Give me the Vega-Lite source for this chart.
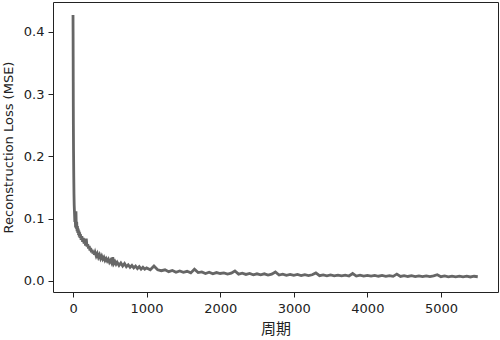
{
  "$schema": "https://vega.github.io/schema/vega-lite/v6.json",
  "width": 445,
  "height": 290,
  "autosize": {"type": "none"},
  "padding": {"left": 53, "top": 2, "right": 2, "bottom": 48},
  "background": "white",
  "config": {
    "view": {"stroke": "#222", "strokeWidth": 1},
    "font": "DejaVu Sans",
    "axis": {
      "grid": false,
      "domain": false,
      "tickColor": "#222",
      "tickSize": 5,
      "labelColor": "#222",
      "labelFontSize": 13,
      "labelFont": "DejaVu Sans",
      "titleColor": "#222",
      "titleFontWeight": "normal",
      "titleFontSize": 13
    }
  },
  "data": {
    "values": [
      {"epoch": 0, "loss": 0.427},
      {"epoch": 1, "loss": 0.40},
      {"epoch": 2, "loss": 0.36},
      {"epoch": 3, "loss": 0.32},
      {"epoch": 4, "loss": 0.28},
      {"epoch": 5, "loss": 0.25},
      {"epoch": 7, "loss": 0.21},
      {"epoch": 10, "loss": 0.17},
      {"epoch": 13, "loss": 0.14},
      {"epoch": 16, "loss": 0.122},
      {"epoch": 20, "loss": 0.11},
      {"epoch": 25, "loss": 0.095},
      {"epoch": 30, "loss": 0.100},
      {"epoch": 35, "loss": 0.086},
      {"epoch": 40, "loss": 0.112},
      {"epoch": 45, "loss": 0.084},
      {"epoch": 50, "loss": 0.095},
      {"epoch": 55, "loss": 0.080},
      {"epoch": 60, "loss": 0.088},
      {"epoch": 65, "loss": 0.077},
      {"epoch": 70, "loss": 0.084},
      {"epoch": 75, "loss": 0.074},
      {"epoch": 80, "loss": 0.081},
      {"epoch": 85, "loss": 0.071},
      {"epoch": 90, "loss": 0.078},
      {"epoch": 95, "loss": 0.069},
      {"epoch": 100, "loss": 0.075},
      {"epoch": 110, "loss": 0.066},
      {"epoch": 120, "loss": 0.072},
      {"epoch": 130, "loss": 0.063},
      {"epoch": 140, "loss": 0.069},
      {"epoch": 150, "loss": 0.060},
      {"epoch": 160, "loss": 0.066},
      {"epoch": 170, "loss": 0.057},
      {"epoch": 180, "loss": 0.068},
      {"epoch": 190, "loss": 0.055},
      {"epoch": 200, "loss": 0.059},
      {"epoch": 210, "loss": 0.052},
      {"epoch": 220, "loss": 0.056},
      {"epoch": 230, "loss": 0.049},
      {"epoch": 240, "loss": 0.053},
      {"epoch": 250, "loss": 0.046},
      {"epoch": 260, "loss": 0.050},
      {"epoch": 270, "loss": 0.044},
      {"epoch": 280, "loss": 0.048},
      {"epoch": 290, "loss": 0.042},
      {"epoch": 300, "loss": 0.046},
      {"epoch": 315, "loss": 0.040},
      {"epoch": 330, "loss": 0.044},
      {"epoch": 345, "loss": 0.038},
      {"epoch": 360, "loss": 0.042},
      {"epoch": 375, "loss": 0.036},
      {"epoch": 390, "loss": 0.040},
      {"epoch": 405, "loss": 0.035},
      {"epoch": 420, "loss": 0.038},
      {"epoch": 435, "loss": 0.033},
      {"epoch": 450, "loss": 0.036},
      {"epoch": 465, "loss": 0.032},
      {"epoch": 480, "loss": 0.035},
      {"epoch": 495, "loss": 0.030},
      {"epoch": 510, "loss": 0.033},
      {"epoch": 525, "loss": 0.029},
      {"epoch": 540, "loss": 0.038},
      {"epoch": 555, "loss": 0.028},
      {"epoch": 570, "loss": 0.031},
      {"epoch": 585, "loss": 0.027},
      {"epoch": 600, "loss": 0.030},
      {"epoch": 625, "loss": 0.025},
      {"epoch": 650, "loss": 0.029},
      {"epoch": 675, "loss": 0.024},
      {"epoch": 700, "loss": 0.028},
      {"epoch": 725, "loss": 0.023},
      {"epoch": 750, "loss": 0.026},
      {"epoch": 775, "loss": 0.022},
      {"epoch": 800, "loss": 0.025},
      {"epoch": 825, "loss": 0.021},
      {"epoch": 850, "loss": 0.024},
      {"epoch": 875, "loss": 0.020},
      {"epoch": 900, "loss": 0.023},
      {"epoch": 925, "loss": 0.019},
      {"epoch": 950, "loss": 0.022},
      {"epoch": 975, "loss": 0.019},
      {"epoch": 1000, "loss": 0.021},
      {"epoch": 1050, "loss": 0.018},
      {"epoch": 1100, "loss": 0.024},
      {"epoch": 1150, "loss": 0.018},
      {"epoch": 1200, "loss": 0.0165},
      {"epoch": 1250, "loss": 0.018},
      {"epoch": 1300, "loss": 0.015},
      {"epoch": 1350, "loss": 0.017},
      {"epoch": 1400, "loss": 0.014},
      {"epoch": 1450, "loss": 0.016},
      {"epoch": 1500, "loss": 0.014},
      {"epoch": 1550, "loss": 0.0155},
      {"epoch": 1600, "loss": 0.013},
      {"epoch": 1650, "loss": 0.019},
      {"epoch": 1700, "loss": 0.0135},
      {"epoch": 1750, "loss": 0.0145},
      {"epoch": 1800, "loss": 0.012},
      {"epoch": 1850, "loss": 0.014},
      {"epoch": 1900, "loss": 0.0115},
      {"epoch": 1950, "loss": 0.0135},
      {"epoch": 2000, "loss": 0.012},
      {"epoch": 2050, "loss": 0.013},
      {"epoch": 2100, "loss": 0.011},
      {"epoch": 2150, "loss": 0.0125},
      {"epoch": 2200, "loss": 0.016},
      {"epoch": 2250, "loss": 0.011},
      {"epoch": 2300, "loss": 0.0125},
      {"epoch": 2350, "loss": 0.0105},
      {"epoch": 2400, "loss": 0.012},
      {"epoch": 2450, "loss": 0.010},
      {"epoch": 2500, "loss": 0.0115},
      {"epoch": 2550, "loss": 0.0100},
      {"epoch": 2600, "loss": 0.0115},
      {"epoch": 2650, "loss": 0.0095},
      {"epoch": 2700, "loss": 0.011},
      {"epoch": 2750, "loss": 0.0145},
      {"epoch": 2800, "loss": 0.0095},
      {"epoch": 2850, "loss": 0.011},
      {"epoch": 2900, "loss": 0.009},
      {"epoch": 2950, "loss": 0.0105},
      {"epoch": 3000, "loss": 0.009},
      {"epoch": 3050, "loss": 0.0105},
      {"epoch": 3100, "loss": 0.0088},
      {"epoch": 3150, "loss": 0.0102},
      {"epoch": 3200, "loss": 0.0086},
      {"epoch": 3250, "loss": 0.0100},
      {"epoch": 3300, "loss": 0.0130},
      {"epoch": 3350, "loss": 0.0085},
      {"epoch": 3400, "loss": 0.0098},
      {"epoch": 3450, "loss": 0.0083},
      {"epoch": 3500, "loss": 0.0096},
      {"epoch": 3550, "loss": 0.0082},
      {"epoch": 3600, "loss": 0.0095},
      {"epoch": 3650, "loss": 0.0081},
      {"epoch": 3700, "loss": 0.0094},
      {"epoch": 3750, "loss": 0.0080},
      {"epoch": 3800, "loss": 0.0120},
      {"epoch": 3850, "loss": 0.0079},
      {"epoch": 3900, "loss": 0.0092},
      {"epoch": 3950, "loss": 0.0078},
      {"epoch": 4000, "loss": 0.0090},
      {"epoch": 4050, "loss": 0.0077},
      {"epoch": 4100, "loss": 0.0089},
      {"epoch": 4150, "loss": 0.0076},
      {"epoch": 4200, "loss": 0.0088},
      {"epoch": 4250, "loss": 0.0075},
      {"epoch": 4300, "loss": 0.0087},
      {"epoch": 4350, "loss": 0.0074},
      {"epoch": 4400, "loss": 0.0110},
      {"epoch": 4450, "loss": 0.0073},
      {"epoch": 4500, "loss": 0.0085},
      {"epoch": 4550, "loss": 0.0072},
      {"epoch": 4600, "loss": 0.0084},
      {"epoch": 4650, "loss": 0.0071},
      {"epoch": 4700, "loss": 0.0083},
      {"epoch": 4750, "loss": 0.0070},
      {"epoch": 4800, "loss": 0.0082},
      {"epoch": 4850, "loss": 0.0069},
      {"epoch": 4900, "loss": 0.0081},
      {"epoch": 4950, "loss": 0.0100},
      {"epoch": 5000, "loss": 0.0068},
      {"epoch": 5050, "loss": 0.0080},
      {"epoch": 5100, "loss": 0.0067},
      {"epoch": 5150, "loss": 0.0079},
      {"epoch": 5200, "loss": 0.0066},
      {"epoch": 5250, "loss": 0.0078},
      {"epoch": 5300, "loss": 0.0065},
      {"epoch": 5350, "loss": 0.0077},
      {"epoch": 5400, "loss": 0.0064},
      {"epoch": 5450, "loss": 0.0076},
      {"epoch": 5500, "loss": 0.0068}
    ]
  },
  "mark": {"type": "line", "color": "#666666", "strokeWidth": 2.8, "clip": true},
  "encoding": {
    "x": {
      "field": "epoch",
      "type": "quantitative",
      "scale": {"domain": [-272, 5775], "nice": false, "zero": false},
      "axis": {
        "values": [0, 1000, 2000, 3000, 4000, 5000],
        "format": "d",
        "title": "周期",
        "titleFont": "Noto Sans CJK SC",
        "titleFontSize": 15,
        "labelPadding": 5,
        "titlePadding": 6
      }
    },
    "y": {
      "field": "loss",
      "type": "quantitative",
      "scale": {"domain": [-0.0177, 0.448], "nice": false, "zero": false},
      "axis": {
        "values": [0, 0.1, 0.2, 0.3, 0.4],
        "format": ".1f",
        "title": "Reconstruction Loss (MSE)",
        "labelPadding": 4,
        "titlePadding": 8
      }
    }
  }
}
